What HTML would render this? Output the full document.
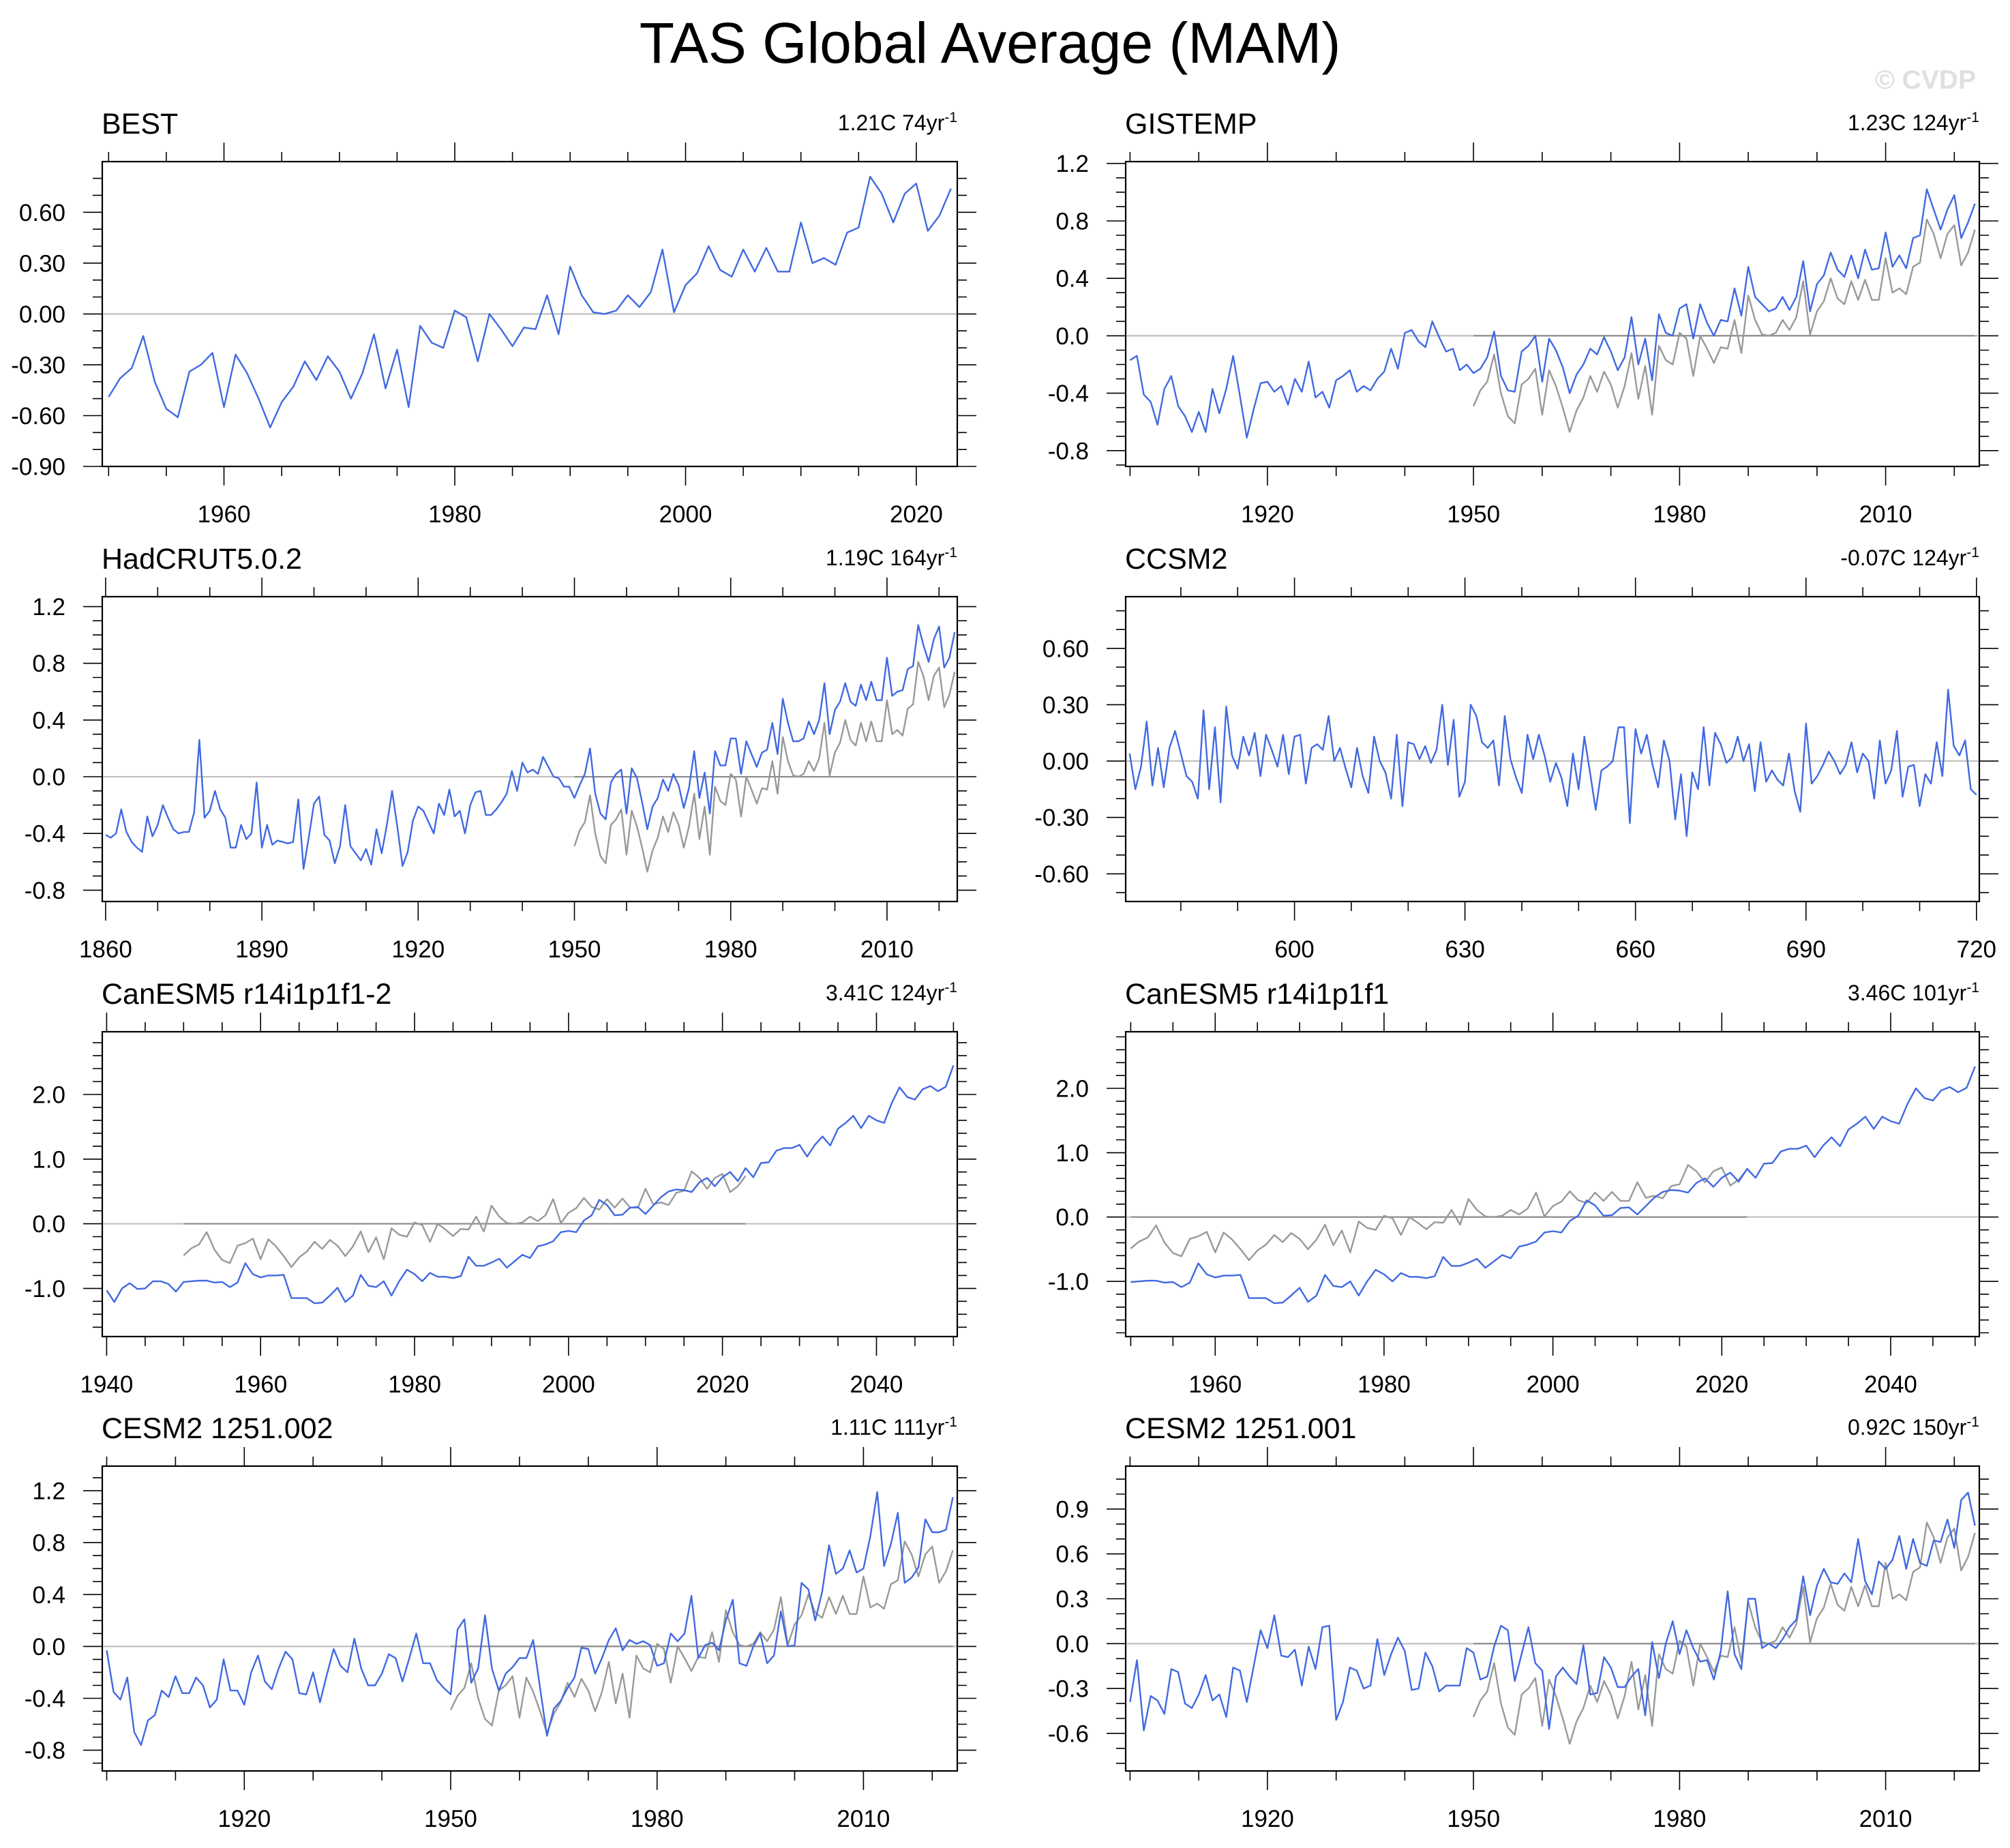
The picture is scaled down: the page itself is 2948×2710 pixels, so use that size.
<!DOCTYPE html>
<html>
<head>
<meta charset="utf-8">
<style>
  html,body{margin:0;padding:0;background:#fff;}
  svg{display:block;font-family:"Liberation Sans",Arial,sans-serif;}
</style>
</head>
<body>
<svg id="chart" xmlns="http://www.w3.org/2000/svg" width="2948" height="2710" viewBox="0 0 2948 2710">
  <rect x="0" y="0" width="2948" height="2710" fill="#fff"/>
  <text x="1452" y="92" font-size="84" text-anchor="middle" fill="#000">TAS Global Average (MAM)</text>
  <text x="2898" y="130" font-size="39" font-weight="bold" text-anchor="end" fill="#e0e0e0">© CVDP</text>
</svg>
<script>
// ---- data (one value per year) ----
const bestStart = 1950;
const bestVals = [-0.49,-0.38,-0.32,-0.13,-0.40,-0.56,-0.61,-0.34,-0.30,-0.23,-0.55,-0.24,-0.35,-0.50,-0.67,-0.52,-0.43,-0.28,-0.39,-0.25,-0.34,-0.50,-0.35,-0.12,-0.44,-0.21,-0.55,-0.07,-0.17,-0.20,0.02,-0.02,-0.28,0.00,-0.09,-0.19,-0.08,-0.09,0.11,-0.12,0.28,0.11,0.01,0.00,0.02,0.11,0.04,0.13,0.38,0.01,0.17,0.24,0.40,0.26,0.22,0.38,0.25,0.39,0.25,0.25,0.54,0.30,0.33,0.29,0.48,0.51,0.81,0.71,0.54,0.71,0.77,0.49,0.58,0.74];

const gisStart = 1900;
const gisVals = [-0.17,-0.14,-0.41,-0.46,-0.62,-0.37,-0.28,-0.49,-0.56,-0.67,-0.53,-0.67,-0.37,-0.54,-0.37,-0.14,-0.42,-0.71,-0.51,-0.33,-0.32,-0.39,-0.35,-0.48,-0.30,-0.39,-0.18,-0.43,-0.39,-0.50,-0.31,-0.28,-0.24,-0.39,-0.35,-0.38,-0.30,-0.25,-0.09,-0.23,0.02,0.04,-0.04,-0.08,0.10,-0.01,-0.11,-0.09,-0.24,-0.20,-0.26,-0.23,-0.15,0.03,-0.28,-0.38,-0.39,-0.11,-0.07,0.00,-0.32,-0.02,-0.10,-0.22,-0.40,-0.27,-0.20,-0.09,-0.13,-0.01,-0.11,-0.24,-0.15,0.13,-0.20,-0.02,-0.31,0.15,0.02,0.00,0.19,0.22,-0.02,0.22,0.09,0.00,0.11,0.10,0.33,0.14,0.48,0.27,0.22,0.17,0.19,0.27,0.18,0.27,0.52,0.17,0.36,0.42,0.58,0.46,0.41,0.56,0.40,0.60,0.46,0.47,0.72,0.48,0.56,0.47,0.68,0.70,1.02,0.88,0.74,0.88,0.98,0.68,0.79,0.92];

const hadStart = 1860;
const hadVals = [-0.41,-0.43,-0.40,-0.23,-0.39,-0.46,-0.50,-0.53,-0.28,-0.42,-0.34,-0.20,-0.29,-0.37,-0.40,-0.39,-0.39,-0.25,0.26,-0.29,-0.24,-0.10,-0.23,-0.29,-0.50,-0.50,-0.34,-0.44,-0.40,-0.04,-0.50,-0.34,-0.48,-0.45,-0.46,-0.47,-0.46,-0.16,-0.65,-0.43,-0.19,-0.14,-0.41,-0.45,-0.61,-0.49,-0.20,-0.49,-0.54,-0.59,-0.51,-0.62,-0.37,-0.54,-0.34,-0.10,-0.35,-0.63,-0.53,-0.31,-0.21,-0.24,-0.32,-0.40,-0.19,-0.27,-0.09,-0.28,-0.24,-0.40,-0.20,-0.11,-0.10,-0.27,-0.27,-0.23,-0.18,-0.12,0.04,-0.10,0.10,0.03,0.05,0.02,0.14,0.07,0.00,-0.01,-0.07,-0.07,-0.15,-0.06,0.02,0.20,-0.12,-0.26,-0.30,-0.04,0.02,0.05,-0.26,0.06,-0.01,-0.18,-0.37,-0.21,-0.15,-0.02,-0.10,0.02,-0.06,-0.22,-0.08,0.18,-0.15,0.03,-0.26,0.18,0.08,0.08,0.27,0.27,0.02,0.25,0.16,0.07,0.17,0.19,0.38,0.16,0.55,0.38,0.25,0.25,0.27,0.39,0.30,0.40,0.66,0.30,0.47,0.53,0.66,0.53,0.50,0.65,0.54,0.67,0.54,0.54,0.84,0.57,0.60,0.61,0.76,0.78,1.07,0.93,0.81,0.97,1.06,0.77,0.84,1.02];

const ccsmStart = 571;
const ccsmVals = [0.04,-0.15,-0.03,0.21,-0.13,0.07,-0.14,0.07,0.16,0.04,-0.08,-0.11,-0.20,0.27,-0.15,0.18,-0.22,0.29,0.03,-0.04,0.13,0.03,0.15,-0.08,0.14,0.06,-0.03,0.14,-0.07,0.13,0.14,-0.12,0.07,0.09,0.06,0.24,0.00,0.07,-0.04,-0.14,0.07,-0.08,-0.17,0.13,0.00,-0.06,-0.20,0.14,-0.24,0.10,0.09,0.01,0.08,-0.01,0.06,0.30,-0.02,0.22,-0.19,-0.11,0.30,0.24,0.10,0.07,0.11,-0.13,0.24,0.01,-0.09,-0.17,0.14,0.01,0.14,0.03,-0.11,-0.01,-0.09,-0.24,0.04,-0.15,0.13,-0.06,-0.26,-0.05,-0.03,0.00,0.18,0.18,-0.33,0.17,0.04,0.14,-0.02,-0.14,0.11,0.00,-0.31,-0.07,-0.40,-0.06,-0.15,0.18,-0.13,0.15,0.09,-0.01,0.02,0.13,0.00,0.09,-0.16,0.10,-0.11,-0.05,-0.10,-0.13,0.04,-0.16,-0.27,0.20,-0.12,-0.08,-0.02,0.05,0.00,-0.07,-0.02,0.10,-0.06,0.04,0.00,-0.20,0.11,-0.12,-0.05,0.16,-0.19,-0.03,-0.02,-0.24,-0.07,-0.12,0.10,-0.08,0.38,0.08,0.03,0.11,-0.15,-0.18];

const canAStart = 1940;
const canAVals = [-1.03,-1.21,-1.00,-0.92,-1.01,-1.00,-0.89,-0.89,-0.93,-1.05,-0.90,-0.89,-0.88,-0.88,-0.91,-0.90,-0.98,-0.91,-0.61,-0.78,-0.83,-0.80,-0.80,-0.79,-1.15,-1.15,-1.15,-1.23,-1.22,-1.11,-0.99,-1.21,-1.11,-0.79,-0.96,-0.98,-0.89,-1.11,-0.89,-0.71,-0.78,-0.89,-0.76,-0.82,-0.82,-0.84,-0.81,-0.51,-0.65,-0.65,-0.60,-0.54,-0.68,-0.58,-0.48,-0.53,-0.35,-0.32,-0.27,-0.13,-0.11,-0.13,0.05,0.13,0.37,0.29,0.13,0.14,0.25,0.26,0.15,0.28,0.41,0.50,0.53,0.52,0.49,0.64,0.71,0.58,0.72,0.80,0.66,0.86,0.72,0.94,0.95,1.13,1.17,1.17,1.22,1.04,1.22,1.35,1.21,1.47,1.56,1.67,1.48,1.67,1.60,1.56,1.87,2.11,1.96,1.92,2.08,2.13,2.05,2.12,2.45];

const canBStart = 1950;
const canBVals = [-1.01,-1.00,-0.99,-0.99,-1.02,-1.01,-1.09,-1.02,-0.72,-0.89,-0.94,-0.91,-0.91,-0.90,-1.26,-1.26,-1.26,-1.34,-1.33,-1.22,-1.10,-1.32,-1.22,-0.90,-1.07,-1.09,-1.00,-1.22,-1.00,-0.82,-0.89,-1.00,-0.87,-0.93,-0.93,-0.95,-0.92,-0.62,-0.76,-0.76,-0.71,-0.65,-0.79,-0.69,-0.59,-0.64,-0.46,-0.43,-0.38,-0.24,-0.22,-0.24,-0.06,0.02,0.26,0.18,0.02,0.03,0.14,0.15,0.04,0.17,0.30,0.39,0.42,0.41,0.38,0.53,0.60,0.47,0.61,0.69,0.55,0.75,0.61,0.83,0.84,1.02,1.06,1.06,1.11,0.93,1.11,1.24,1.10,1.36,1.45,1.56,1.37,1.56,1.49,1.45,1.76,2.00,1.85,1.81,1.97,2.02,1.94,2.01,2.34];

const cesmAStart = 1900;
const cesmAVals = [-0.03,-0.35,-0.41,-0.24,-0.66,-0.76,-0.57,-0.53,-0.34,-0.39,-0.23,-0.36,-0.36,-0.24,-0.30,-0.47,-0.41,-0.10,-0.34,-0.34,-0.45,-0.20,-0.07,-0.27,-0.33,-0.17,-0.04,-0.10,-0.36,-0.37,-0.20,-0.43,-0.22,-0.02,-0.15,-0.20,0.06,-0.17,-0.30,-0.30,-0.21,-0.06,-0.09,-0.27,-0.09,0.10,-0.13,-0.13,-0.26,-0.32,-0.37,0.13,0.21,-0.28,-0.17,0.24,-0.17,-0.34,-0.21,-0.16,-0.09,-0.09,0.05,-0.32,-0.69,-0.48,-0.42,-0.32,-0.24,-0.01,-0.02,-0.21,-0.09,0.05,0.14,-0.03,0.05,0.02,0.04,0.01,-0.15,-0.13,0.10,0.04,0.10,0.39,-0.09,0.01,0.03,-0.03,0.20,0.36,-0.13,-0.15,0.00,0.10,-0.13,-0.07,0.27,0.00,0.01,0.49,0.44,0.20,0.42,0.78,0.56,0.60,0.74,0.57,0.60,0.85,1.19,0.62,0.79,1.03,0.49,0.53,0.61,0.98,0.88,0.88,0.90,1.15];

const cesmBStart = 1900;
const cesmBVals = [-0.39,-0.11,-0.58,-0.35,-0.38,-0.47,-0.17,-0.19,-0.40,-0.43,-0.34,-0.21,-0.38,-0.34,-0.49,-0.16,-0.18,-0.39,-0.15,0.09,-0.03,0.19,-0.08,-0.09,-0.04,-0.28,-0.02,-0.17,0.11,0.12,-0.51,-0.39,-0.16,-0.18,-0.30,-0.28,0.03,-0.21,-0.07,0.04,-0.05,-0.31,-0.30,-0.06,-0.15,-0.32,-0.28,-0.28,-0.28,-0.03,-0.06,-0.24,-0.22,-0.02,0.12,0.09,-0.25,-0.07,0.11,-0.13,-0.18,-0.57,-0.22,-0.16,-0.22,-0.27,-0.01,-0.34,-0.33,-0.09,-0.16,-0.29,-0.29,-0.22,-0.17,-0.48,0.01,-0.23,0.00,0.15,-0.07,0.09,-0.03,-0.12,-0.11,-0.24,-0.05,0.35,-0.07,-0.17,0.30,0.30,-0.03,0.00,-0.03,0.03,0.11,0.16,0.45,0.19,0.39,0.50,0.41,0.40,0.47,0.41,0.70,0.42,0.33,0.55,0.50,0.56,0.72,0.50,0.70,0.54,0.52,0.69,0.68,0.83,0.64,0.96,1.01,0.79];

// ---- tick labels ----
const xTicksBest = [1960,1980,2000,2020];
const xTicksObs = [1920,1950,1980,2010];
const xTicksHad = [1860,1890,1920,1950,1980,2010];
const xTicksCcsm = [600,630,660,690,720];
const xTicksCanA = [1940,1960,1980,2000,2020,2040];
const xTicksCanB = [1960,1980,2000,2020,2040];
const yTicksBest = [-0.9,-0.6,-0.3,0,0.3,0.6];
const yTicksObs = [-0.8,-0.4,0,0.4,0.8,1.2];
const yTicksCcsm = [-0.6,-0.3,0,0.3,0.6];
const yTicksCan = [-1,0,1,2];
const yTicksCesmB = [-0.6,-0.3,0,0.3,0.6,0.9];
const panelTitles = ["BEST","GISTEMP","HadCRUT5.0.2","CCSM2","CanESM5 r14i1p1f1-2","CanESM5 r14i1p1f1","CESM2 1251.002","CESM2 1251.001"];
const trendTexts = ["1.21C 74yr","1.23C 124yr","1.19C 164yr","-0.07C 124yr","3.41C 124yr","3.46C 101yr","1.11C 111yr","0.92C 150yr"];

// ---- drawing ----
const NS = "http://www.w3.org/2000/svg";
const svg = document.getElementById("chart");
function mk(tag, attrs, parent){
  const e = document.createElementNS(NS, tag);
  for (const k in attrs) e.setAttribute(k, attrs[k]);
  (parent||svg).appendChild(e);
  return e;
}
const COLS = [[150,1404],[1651,2903]];
const ROWS = [237,875,1513,2150];
const H = 447;

function drawPanel(p){
  const [x0,x1] = COLS[p.col];
  const y0 = ROWS[p.row], y1 = y0 + H;
  const g = mk("g", {});
  
  
  const sx = v => x0 + (v - p.xmin) / (p.xmax - p.xmin) * (x1 - x0);
  const sy = v => y1 - (v - p.ymin) / (p.ymax - p.ymin) * (y1 - y0);

  const zl = mk("line", {x1:x0, x2:x1, y1:sy(0), y2:sy(0), stroke:"#c0c0c0", "stroke-width":2.2}, g);
  
  

  function series(start, vals, color, nm){
    let d = "";
    vals.forEach((v,i) => { d += (i ? "L" : "M") + sx(start + i).toFixed(1) + "," + sy(v).toFixed(1); });
    const path = mk("path", {d:d, fill:"none", stroke:color, "stroke-width":2.4, "stroke-linejoin":"round"}, g);
    
    
  }
  if (p.obs){
    const zd = mk("line", {x1:sx(bestStart), x2:sx(bestStart + bestVals.length - 1), y1:sy(0), y2:sy(0), stroke:"#8c8c8c", "stroke-width":2.2}, g);
    
    
    series(bestStart, bestVals, "#999999", "observed-best-line");
  }
  series(p.start, p.vals, "#4169e1", p.name + "-line");

  const fr = mk("rect", {x:x0, y:y0, width:x1-x0, height:H, fill:"none", stroke:"#000", "stroke-width":2.2}, g);
  
  

  let ticks = "";
  const ymn = Math.ceil(p.ymin / p.yminor - 1e-6);
  const ymx = Math.floor(p.ymax / p.yminor + 1e-6);
  for (let k = ymn; k <= ymx; k++){
    const v = k * p.yminor;
    const isMaj = p.yTicks.some(t => Math.abs(t - v) < 1e-6);
    const len = isMaj ? 28 : 14;
    const y = sy(v).toFixed(1);
    ticks += `M${x0-len},${y}H${x0}M${x1},${y}H${x1+len}`;
  }
  p.yTicks.forEach(t => {
    if (t < p.ymin - 1e-6 || t > p.ymax + 1e-6) return;
    const tl = mk("text", {x:x0-54, y:sy(t)+12.5, "font-size":35, "text-anchor":"end", fill:"#000"}, g);
    
    
    tl.textContent = t.toFixed(p.ydec);
  });
  const xmn = Math.ceil(p.xmin / p.xminor - 1e-6);
  const xmx = Math.floor(p.xmax / p.xminor + 1e-6);
  for (let k = xmn; k <= xmx; k++){
    const v = k * p.xminor;
    const isMaj = p.xTicks.includes(v);
    const len = isMaj ? 28 : 14;
    const x = sx(v).toFixed(1);
    ticks += `M${x},${y1}V${y1+len}M${x},${y0}V${y0-len}`;
  }
  const tp = mk("path", {d:ticks, stroke:"#000", "stroke-width":1.6, fill:"none"}, g);
  
  
  p.xTicks.forEach(t => {
    const xl = mk("text", {x:sx(t), y:y1+82, "font-size":35, "text-anchor":"middle", fill:"#000"}, g);
    
    
    xl.textContent = String(t);
  });

  const tt = mk("text", {x:x0-1, y:y0-41, "font-size":43, fill:"#000"}, g);
  
  
  tt.textContent = panelTitles[p.idx];
  const tr = mk("text", {x:x1, y:y0-46, "font-size":32, "text-anchor":"end", fill:"#000"}, g);
  
  
  tr.appendChild(document.createTextNode(trendTexts[p.idx]));
  const sup = mk("tspan", {dy:-12, "font-size":21}, tr);
  sup.textContent = "-1";
}

drawPanel({idx:0,name:"best",col:0,row:0,start:bestStart,vals:bestVals,obs:false,xmin:1949.45,xmax:2023.55,xminor:5,xTicks:xTicksBest,ymin:-0.9,ymax:0.899,yminor:0.1,yTicks:yTicksBest,ydec:2});
drawPanel({idx:1,name:"gistemp",col:1,row:0,start:gisStart,vals:gisVals,obs:true,xmin:1899.36,xmax:2023.64,xminor:10,xTicks:xTicksObs,ymin:-0.91,ymax:1.213,yminor:0.1,yTicks:yTicksObs,ydec:1});
drawPanel({idx:2,name:"hadcrut",col:0,row:1,start:hadStart,vals:hadVals,obs:true,xmin:1859.36,xmax:2023.5,xminor:10,xTicks:xTicksHad,ymin:-0.88,ymax:1.27,yminor:0.1,yTicks:yTicksObs,ydec:1});
drawPanel({idx:3,name:"ccsm2",col:1,row:1,start:ccsmStart,vals:ccsmVals,obs:false,xmin:570.3,xmax:720.5,xminor:10,xTicks:xTicksCcsm,ymin:-0.7475,ymax:0.875,yminor:0.1,yTicks:yTicksCcsm,ydec:2});
drawPanel({idx:4,name:"canesm5-2",col:0,row:2,start:canAStart,vals:canAVals,obs:true,xmin:1939.43,xmax:2050.5,xminor:5,xTicks:xTicksCanA,ymin:-1.745,ymax:2.97,yminor:0.2,yTicks:yTicksCan,ydec:1});
drawPanel({idx:5,name:"canesm5",col:1,row:2,start:canBStart,vals:canBVals,obs:true,xmin:1949.4,xmax:2050.5,xminor:5,xTicks:xTicksCanB,ymin:-1.858,ymax:2.88,yminor:0.2,yTicks:yTicksCan,ydec:1});
drawPanel({idx:6,name:"cesm2-002",col:0,row:3,start:cesmAStart,vals:cesmAVals,obs:true,xmin:1899.36,xmax:2023.64,xminor:10,xTicks:xTicksObs,ymin:-0.96,ymax:1.39,yminor:0.1,yTicks:yTicksObs,ydec:1});
drawPanel({idx:7,name:"cesm2-001",col:1,row:3,start:cesmBStart,vals:cesmBVals,obs:true,xmin:1899.36,xmax:2023.64,xminor:10,xTicks:xTicksObs,ymin:-0.851,ymax:1.187,yminor:0.1,yTicks:yTicksCesmB,ydec:1});
</script>
</body>
</html>
